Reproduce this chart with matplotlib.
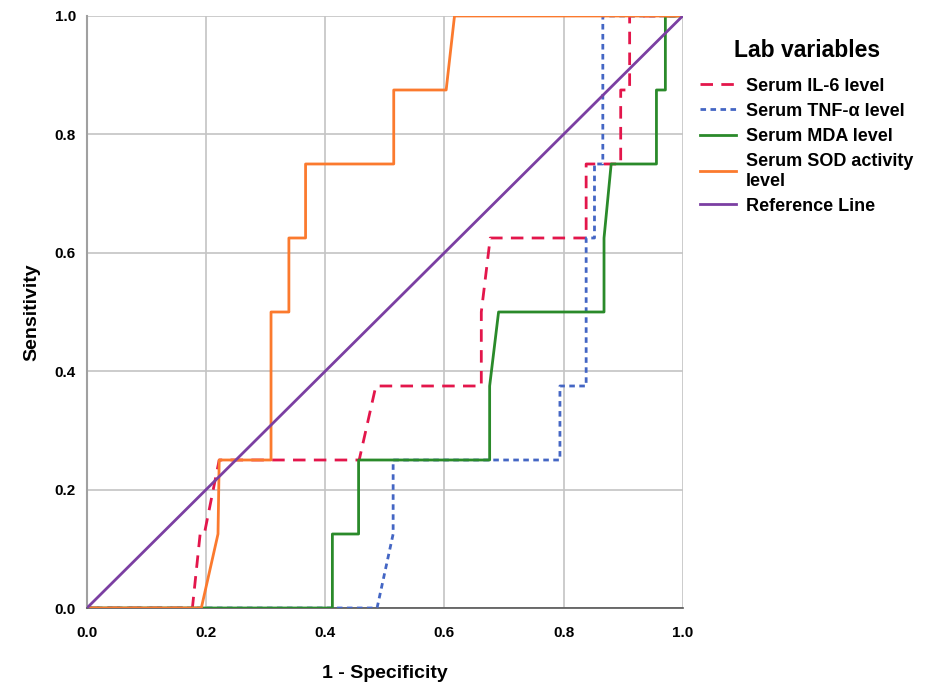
import matplotlib
matplotlib.use("Agg")
import matplotlib.pyplot as plt

plt.rcParams["font.family"] = ["Liberation Sans", "DejaVu Sans"]

# ROC curve points (1 - specificity, sensitivity)
il6_x = [0, 0.177, 0.19, 0.197, 0.222, 0.457, 0.485, 0.662, 0.662, 0.677, 0.838, 0.838, 0.896, 0.896, 0.911, 0.911, 1]
il6_y = [0, 0, 0.125, 0.125, 0.25, 0.25, 0.375, 0.375, 0.5, 0.625, 0.625, 0.75, 0.75, 0.875, 0.875, 1, 1]

tnf_x = [0, 0.487, 0.514, 0.514, 0.794, 0.794, 0.838, 0.838, 0.852, 0.852, 0.866, 0.866, 1]
tnf_y = [0, 0, 0.125, 0.25, 0.25, 0.375, 0.375, 0.625, 0.625, 0.75, 0.75, 1, 1]

mda_x = [0, 0.412, 0.412, 0.456, 0.456, 0.676, 0.676, 0.691, 0.868, 0.868, 0.880, 0.956, 0.956, 0.971, 0.971, 1]
mda_y = [0, 0, 0.125, 0.125, 0.25, 0.25, 0.375, 0.5, 0.5, 0.625, 0.75, 0.75, 0.875, 0.875, 1, 1]

sod_x = [0, 0.192, 0.220, 0.222, 0.309, 0.309, 0.339, 0.339, 0.367, 0.367, 0.515, 0.515, 0.603, 0.617, 1]
sod_y = [0, 0, 0.125, 0.25, 0.25, 0.5, 0.5, 0.625, 0.625, 0.75, 0.75, 0.875, 0.875, 1, 1]

ref_x = [0, 1]
ref_y = [0, 1]

ticks = [0.0, 0.2, 0.4, 0.6, 0.8, 1.0]

fig = plt.figure(figsize=(9.25, 6.86), dpi=100)
ax = fig.add_axes([0.094, 0.1137, 0.644, 0.863])

ax.plot(il6_x, il6_y, color="#e3164b", lw=2, ls=(0, (4.5, 3)), label="Serum IL-6 level", zorder=3)
ax.plot(tnf_x, tnf_y, color="#4466c4", lw=2, ls=(0, (2, 1.6)), label="Serum TNF-\u03b1 level", zorder=3)
ax.plot(mda_x, mda_y, color="#2a8a2a", lw=2, label="Serum MDA level", zorder=3)
ax.plot(sod_x, sod_y, color="#fb7a2e", lw=2, label="Serum SOD activity\nlevel", zorder=3)
ax.plot(ref_x, ref_y, color="#7b3fa2", lw=2, label="Reference Line", zorder=3)

ax.set_xlim(0, 1)
ax.set_ylim(0, 1)
ax.set_xticks(ticks)
ax.set_yticks(ticks)
ax.set_xticklabels([f"{t:.1f}" for t in ticks], fontweight="bold", fontsize=11)
ax.set_yticklabels([f"{t:.1f}" for t in ticks], fontweight="bold", fontsize=11)
ax.tick_params(length=0)
ax.tick_params(axis="x", pad=13)
ax.tick_params(axis="y", pad=8)
ax.grid(True, color="#c4c4c4", lw=1.2)
ax.set_axisbelow(True)
for s in ["top", "right"]:
    ax.spines[s].set_visible(False)
ax.spines["left"].set_color("#a0a0a0")
ax.spines["left"].set_linewidth(1.5)
ax.spines["bottom"].set_color("#555555")
ax.spines["bottom"].set_linewidth(1.2)

ax.set_xlabel("1 - Specificity", fontsize=14, fontweight="bold", labelpad=18)
ax.set_ylabel("Sensitivity", fontsize=14, fontweight="bold", labelpad=10)

leg = ax.legend(loc="upper left", bbox_to_anchor=(1.002, 0.988), frameon=False,
                title="Lab variables", handlelength=2.0, handletextpad=0.55,
                labelspacing=0.45, prop={"weight": "bold", "size": 13})
leg.get_title().set_fontweight("bold")
leg.get_title().set_fontsize(16.5)
leg._legend_box.sep = 11

plt.savefig("out.png", dpi=100)
